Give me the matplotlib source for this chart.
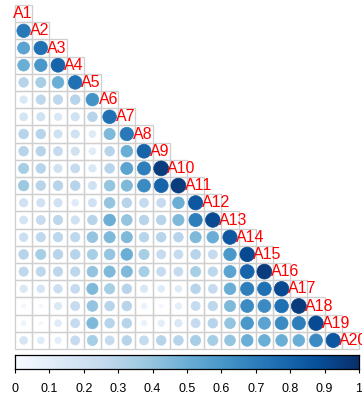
import numpy as np
import matplotlib
matplotlib.use("Agg")
import matplotlib.pyplot as plt
from matplotlib.patches import Circle, Rectangle
from matplotlib.colors import Normalize

labels = ["A%d" % i for i in range(1, 21)]

# lower-triangle values, row i holds columns 1..i-1
r2 = [0.72]
r3 = [0.55, 0.75]
r4 = [0.50, 0.60, 0.80]
r5 = [0.30, 0.35, 0.50, 0.75]
r6 = [0.15, 0.28, 0.28, 0.30, 0.62]
r7 = [0.18, 0.20, 0.15, 0.20, 0.30, 0.75]
r8 = [0.30, 0.30, 0.20, 0.20, 0.12, 0.45, 0.72]
r9 = [0.30, 0.30, 0.25, 0.20, 0.12, 0.30, 0.50, 0.80]
r10 = [0.35, 0.30, 0.20, 0.25, 0.15, 0.30, 0.55, 0.70, 0.95]
r11 = [0.38, 0.30, 0.30, 0.30, 0.20, 0.40, 0.45, 0.65, 0.80, 0.95]
r12 = [0.20, 0.20, 0.20, 0.12, 0.20, 0.40, 0.30, 0.25, 0.25, 0.50, 0.85]
r13 = [0.18, 0.25, 0.28, 0.20, 0.30, 0.50, 0.40, 0.30, 0.30, 0.45, 0.70, 0.90]
r14 = [0.22, 0.27, 0.28, 0.28, 0.40, 0.45, 0.45, 0.30, 0.30, 0.30, 0.45, 0.50, 0.85]
r15 = [0.30, 0.35, 0.30, 0.30, 0.35, 0.40, 0.50, 0.35, 0.25, 0.25, 0.30, 0.25, 0.60, 0.90]
r16 = [0.27, 0.28, 0.28, 0.28, 0.40, 0.45, 0.45, 0.35, 0.25, 0.25, 0.35, 0.28, 0.55, 0.80, 0.95]
r17 = [0.15, 0.17, 0.22, 0.25, 0.45, 0.35, 0.30, 0.15, 0.12, 0.12, 0.30, 0.25, 0.50, 0.70, 0.75, 0.90]
r18 = [0.03, 0.03, 0.15, 0.25, 0.40, 0.30, 0.30, 0.07, 0.03, 0.10, 0.25, 0.28, 0.45, 0.65, 0.65, 0.75, 0.95]
r19 = [0.05, 0.02, 0.12, 0.25, 0.45, 0.30, 0.30, 0.07, 0.10, 0.15, 0.25, 0.30, 0.40, 0.60, 0.55, 0.65, 0.70, 0.90]
r20 = [0.17, 0.12, 0.10, 0.25, 0.35, 0.25, 0.30, 0.25, 0.30, 0.30, 0.35, 0.35, 0.40, 0.50, 0.50, 0.50, 0.50, 0.65, 0.85]

rows = [[], r2, r3, r4, r5, r6, r7, r8, r9, r10, r11, r12, r13, r14, r15, r16, r17, r18, r19, r20]
cbar_ticks = [0, 0.1, 0.2, 0.3, 0.4, 0.5, 0.6, 0.7, 0.8, 0.9, 1]

W, H = 362, 394
fig = plt.figure(figsize=(W / 100, H / 100), dpi=100)
n = len(labels)
gx0, gx1, gy0, gy1 = 15, 359, 5, 349
ax = fig.add_axes([gx0 / W, 1 - gy1 / H, (gx1 - gx0) / W, (gy1 - gy0) / H])
ax.set_xlim(0, n)
ax.set_ylim(n, 0)
ax.axis("off")

cmap = plt.get_cmap("Blues")
norm = Normalize(0, 1)

for i in range(n):
    for j in range(i + 1):
        ax.add_patch(Rectangle((j, i), 1, 1, facecolor="none", edgecolor="#cfcfcf",
                               linewidth=0.9, clip_on=False, zorder=1))
for i, row in enumerate(rows):
    for j, v in enumerate(row):
        c = cmap(norm(v))
        ax.add_patch(Circle((j + 0.5, i + 0.5), 0.88 * v ** 0.37 / 2, facecolor=c,
                            edgecolor=c, linewidth=0.5, clip_on=False, zorder=2))
for i, lab in enumerate(labels):
    ax.text(i - 0.14, i + 0.5, lab, color="#ff0000", ha="left", va="center",
            fontsize=11.5, family="Liberation Sans", zorder=3, clip_on=False)

cax = fig.add_axes([gx0 / W, 1 - 369 / H, (gx1 - gx0) / W, 14 / H])
grad = np.linspace(0, 1, 256).reshape(1, -1)
cax.imshow(grad, aspect="auto", cmap=cmap, extent=[0, 1, 0, 1], norm=norm)
cax.set_xlim(0, 1)
cax.set_yticks([])
cax.set_xticks(cbar_ticks)
cax.set_xticklabels([("%g" % t) for t in cbar_ticks], family="Liberation Sans", fontsize=9)
cax.tick_params(axis="x", length=3, width=0.8, pad=7)
for s in cax.spines.values():
    s.set_linewidth(0.9)

fig.savefig("out.png", dpi=100)
